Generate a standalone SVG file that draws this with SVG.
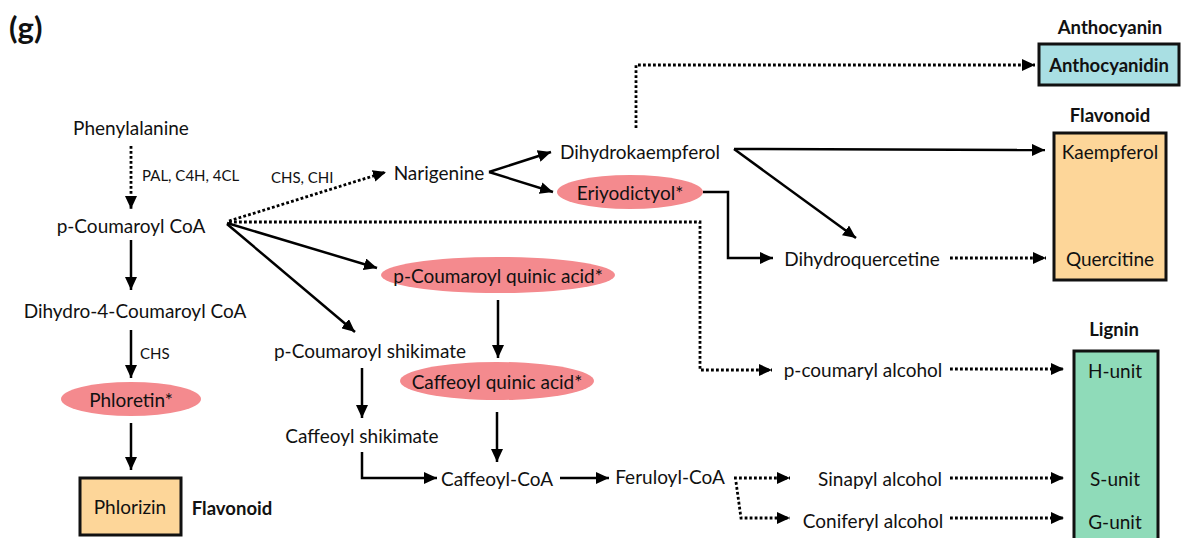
<svg xmlns="http://www.w3.org/2000/svg" width="1186" height="538" viewBox="0 0 1186 538">
<defs>
<marker id="ah" markerUnits="userSpaceOnUse" markerWidth="14" markerHeight="12" refX="13" refY="6" orient="auto">
<path d="M0,0 L13,6 L0,12 Z" fill="#000"/>
</marker>
</defs>
<style>
text{font-family:Lato,"Liberation Sans",sans-serif;fill:#111;}
.t{font-size:19px;text-anchor:middle;dominant-baseline:central;}
.s{font-size:15px;dominant-baseline:central;}
.b{font-size:18.5px;font-weight:bold;text-anchor:middle;dominant-baseline:central;}
.sol{stroke:#000;stroke-width:2.5;fill:none;marker-end:url(#ah);}
.dot{stroke:#000;stroke-width:2.8;fill:none;stroke-dasharray:2.8 2.2;marker-end:url(#ah);}
.el{fill:#F48A8E;}
.box{stroke:#111;stroke-width:3;}
</style>
<rect width="1186" height="538" fill="#fff"/>
<text x="9" y="27" style="font-size:31px;font-weight:bold;dominant-baseline:central;">(g)</text>

<g id="connectors">
<path class="dot" d="M131,146 L131,209"/>
<path class="sol" d="M131,240 L131,290"/>
<path class="sol" d="M131,330 L131,378"/>
<path class="sol" d="M131,423 L131,470"/>
<path class="dot" d="M229,221 L386,172"/>
<path class="dot" d="M229,222 L700,222 L700,370 L772,370"/>
<path class="sol" d="M227,223 L377,268"/>
<path class="sol" d="M227,224 L355,332"/>
<path class="sol" d="M489,172 L551,152"/>
<path class="sol" d="M489,172 L553,192"/>
<path class="dot" d="M636,128 L636,65 L1035,65"/>
<path class="sol" d="M734,149 L1045,150"/>
<path class="sol" d="M734,149 L856,238"/>
<path class="sol" d="M703,192 L728,192 L728,258 L773,258"/>
<path class="dot" d="M950,258 L1046,258"/>
<path class="sol" d="M498,300 L498,358"/>
<path class="sol" d="M497,412 L497,462"/>
<path class="sol" d="M362,368 L362,418"/>
<path class="sol" d="M362,452 L362,478 L437,478"/>
<path class="sol" d="M560,478 L609,478"/>
<path class="dot" d="M734,478 L790,478"/>
<path class="dot" d="M736,482 L741,518 L790,518"/>
<path class="dot" d="M950,369 L1064,369"/>
<path class="dot" d="M950,478 L1064,478"/>
<path class="dot" d="M950,518 L1064,518"/>
</g>

<g id="n-phenylalanine"><text class="t" x="131" y="127">Phenylalanine</text></g>
<g id="l-pal"><text class="s" x="142" y="175">PAL, C4H, 4CL</text></g>
<g id="l-chs-chi"><text class="s" x="271" y="177">CHS, CHI</text></g>
<g id="n-pcoumaroylcoa"><text class="t" x="131" y="225">p-Coumaroyl CoA</text></g>
<g id="n-dihydro4"><text class="t" x="135" y="310">Dihydro-4-Coumaroyl CoA</text></g>
<g id="l-chs"><text class="s" x="140" y="353">CHS</text></g>
<g id="n-phloretin"><ellipse class="el" cx="131" cy="399" rx="70" ry="17"/><text class="t" x="131" y="399">Phloretin*</text></g>
<g id="n-phlorizin"><rect class="box" x="80" y="478" width="101" height="57" fill="#FDD699"/><text class="t" x="130" y="506">Phlorizin</text></g>
<g id="l-flavonoid1"><text class="b" x="232" y="508">Flavonoid</text></g>

<g id="n-narigenine"><text class="t" x="439" y="172">Narigenine</text></g>
<g id="n-dihydrokaempferol"><text class="t" x="640" y="151">Dihydrokaempferol</text></g>
<g id="n-eriyodictyol"><ellipse class="el" cx="630" cy="192" rx="73" ry="17"/><text class="t" x="630" y="192">Eriyodictyol*</text></g>
<g id="n-dihydroquercetine"><text class="t" x="862" y="258">Dihydroquercetine</text></g>
<g id="n-pcqa"><ellipse class="el" cx="498" cy="275" rx="117" ry="18"/><text class="t" x="498" y="275">p-Coumaroyl quinic acid*</text></g>
<g id="n-cqa"><ellipse class="el" cx="497" cy="381" rx="97" ry="19"/><text class="t" x="497" y="381">Caffeoyl quinic acid*</text></g>
<g id="n-pcs"><text class="t" x="370" y="350">p-Coumaroyl shikimate</text></g>
<g id="n-cs"><text class="t" x="362" y="435">Caffeoyl shikimate</text></g>
<g id="n-caffeoylcoa"><text class="t" x="497" y="478">Caffeoyl-CoA</text></g>
<g id="n-feruloylcoa"><text class="t" x="670" y="476">Feruloyl-CoA</text></g>
<g id="n-pcoumarylalc"><text class="t" x="863" y="369">p-coumaryl alcohol</text></g>
<g id="n-sinapyl"><text class="t" x="880" y="478">Sinapyl alcohol</text></g>
<g id="n-coniferyl"><text class="t" x="873" y="520">Coniferyl alcohol</text></g>

<g id="n-anthocyanidin"><text class="b" x="1110" y="27">Anthocyanin</text><rect class="box" x="1039" y="44" width="140" height="41" fill="#A9DFE3"/><text class="b" x="1109" y="65">Anthocyanidin</text></g>
<g id="n-flavonoid"><text class="b" x="1110" y="115">Flavonoid</text><rect class="box" x="1054" y="133" width="112" height="147" fill="#FDD699"/><text class="t" x="1110" y="151">Kaempferol</text><text class="t" x="1110" y="258">Quercitine</text></g>
<g id="n-lignin"><text class="b" x="1114" y="329">Lignin</text><rect class="box" x="1074" y="351" width="84" height="192" fill="#8FDBB9"/><text class="t" x="1115" y="370">H-unit</text><text class="t" x="1115" y="478">S-unit</text><text class="t" x="1115" y="521">G-unit</text></g>
</svg>
